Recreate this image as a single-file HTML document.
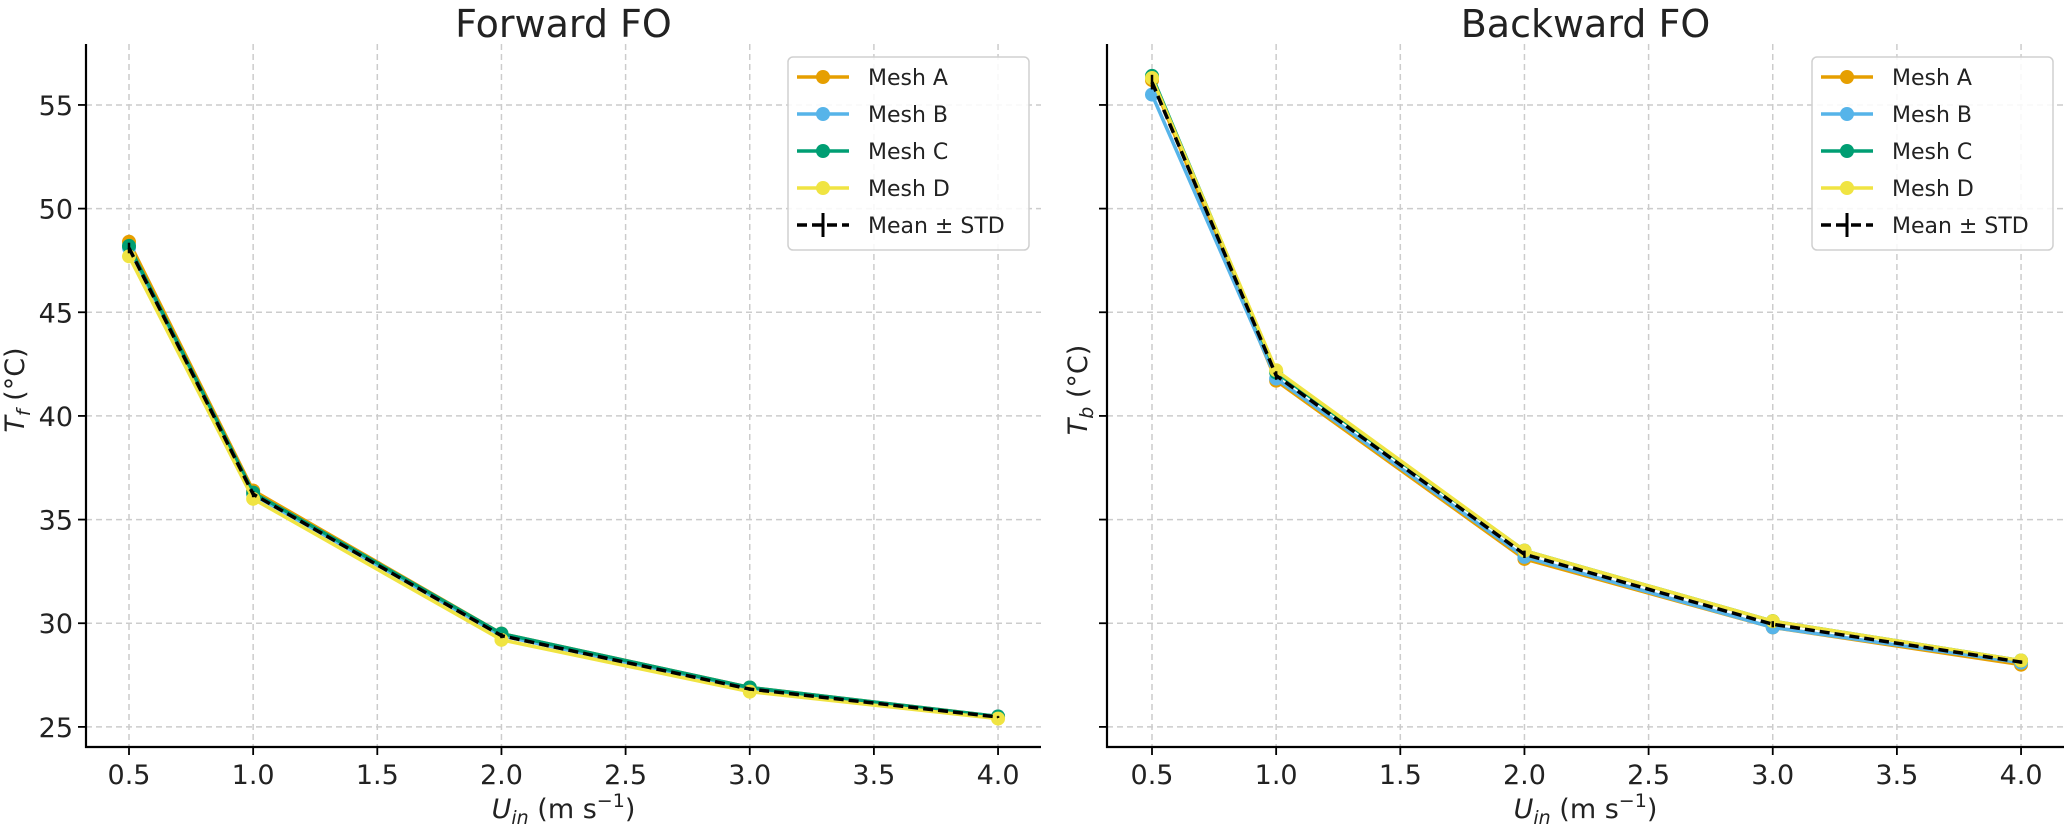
<!DOCTYPE html>
<html><head><meta charset="utf-8">
<style>
html,body{margin:0;padding:0;background:#fff;}
svg{display:block;font-family:"DejaVu Sans","Liberation Sans",sans-serif;}
</style></head>
<body>
<svg id="chart" width="2067" height="827" viewBox="0 0 2067 827" xmlns="http://www.w3.org/2000/svg"></svg>
<script>
const xCategories = [0.5, 1.0, 2.0, 3.0, 4.0];
const xTicks = [0.5, 1.0, 1.5, 2.0, 2.5, 3.0, 3.5, 4.0];
const xTickLabels = ["0.5","1.0","1.5","2.0","2.5","3.0","3.5","4.0"];
const yTicks = [25, 30, 35, 40, 45, 50, 55];
const yTickLabels = ["25","30","35","40","45","50","55"];
const seriesNames = ["Mesh A","Mesh B","Mesh C","Mesh D"];
const fwdA = [48.4, 36.4, 29.5, 26.9, 25.5];
const fwdB = [48.1, 36.2, 29.4, 26.8, 25.5];
const fwdC = [48.2, 36.3, 29.5, 26.9, 25.5];
const fwdD = [47.7, 36.0, 29.2, 26.7, 25.4];
const bwdA = [56.2, 41.7, 33.1, 29.8, 28.0];
const bwdB = [55.5, 41.8, 33.2, 29.8, 28.1];
const bwdC = [56.4, 42.1, 33.5, 30.1, 28.2];
const bwdD = [56.3, 42.2, 33.5, 30.1, 28.2];
const colors = ["#E69F00","#56B4E9","#009E73","#F0E442"];

const svgRoot = document.getElementById('chart');
const NS = "http://www.w3.org/2000/svg";
function mk(tag, attrs, parent, text){
  const el = document.createElementNS(NS, tag);
  for (const k in attrs) el.setAttribute(k, attrs[k]);
  if (text !== undefined) el.textContent = text;
  (parent || svgRoot).appendChild(el);
  return el;
}
const yMin = 24.03, yMax = 57.94, plotTop = 44, plotBottom = 747;
function yScale(v){ return plotBottom - (v - yMin) / (yMax - yMin) * (plotBottom - plotTop); }

function panel(left, right, x05, title, yLabelSub, series, yLabels, legendX, prefix){
  const g = mk('g', {});
  
  
  const pxPerUnit = 248.3;
  const xScale = v => x05 + (v - 0.5) * pxPerUnit;
  xTicks.forEach(t => {
    const l = mk('line', {x1:xScale(t), x2:xScale(t), y1:plotTop, y2:plotBottom, stroke:'#cccccc', 'stroke-width':1.5, 'stroke-dasharray':'6,4'}, g);
    
    
  });
  yTicks.forEach(t => {
    const l = mk('line', {x1:left, x2:right, y1:yScale(t), y2:yScale(t), stroke:'#cccccc', 'stroke-width':1.5, 'stroke-dasharray':'6,4'}, g);
    
    
  });
  const sp1 = mk('line', {x1:left, x2:left, y1:plotTop, y2:plotBottom+1, stroke:'#000', 'stroke-width':2.2}, g);
  
  
  const sp2 = mk('line', {x1:left-1, x2:right, y1:plotBottom, y2:plotBottom, stroke:'#000', 'stroke-width':2.2}, g);
  
  
  xTicks.forEach((t,i) => {
    mk('line', {x1:xScale(t), x2:xScale(t), y1:plotBottom, y2:plotBottom+8, stroke:'#000', 'stroke-width':1.8}, g);
    const tx = mk('text', {x:xScale(t), y:784, 'font-size':27, 'text-anchor':'middle', fill:'#222'}, g, xTickLabels[i]);
    
    
  });
  yTicks.forEach((t,i) => {
    mk('line', {x1:left-8, x2:left, y1:yScale(t), y2:yScale(t), stroke:'#000', 'stroke-width':1.8}, g);
    if (yLabels){
      const ty = mk('text', {x:left-13, y:yScale(t)+10, 'font-size':27, 'text-anchor':'end', fill:'#222'}, g, yTickLabels[i]);
      
      
    }
  });
  const tt = mk('text', {x:(left+right)/2, y:37, 'font-size':38, 'text-anchor':'middle', fill:'#222'}, g, title);
  
  
  const xl = mk('text', {x:(left+right)/2, y:818, 'font-size':27, 'text-anchor':'middle', fill:'#222'}, g);
  
  
  mk('tspan', {'font-style':'italic'}, xl, 'U');
  mk('tspan', {'font-style':'italic', 'font-size':19, dy:6}, xl, 'in');
  mk('tspan', {dy:-6}, xl, ' (m s');
  mk('tspan', {'font-size':19, dy:-11}, xl, '−1');
  mk('tspan', {dy:11}, xl, ')');
  const yx = left - (yLabels ? 62 : 20), yy = 390;
  const yl = mk('text', {x:yx, y:yy, 'font-size':27, 'text-anchor':'middle', fill:'#222', transform:`rotate(-90 ${yx} ${yy})`}, g);
  
  
  mk('tspan', {'font-style':'italic'}, yl, 'T');
  mk('tspan', {'font-style':'italic', 'font-size':19, dy:6}, yl, yLabelSub);
  mk('tspan', {dy:-6}, yl, ' (°C)');
  series.forEach((vals, si) => {
    const pts = vals.map((v,i) => xScale(xCategories[i]) + ',' + yScale(v)).join(' ');
    const pl = mk('polyline', {points:pts, fill:'none', stroke:colors[si], 'stroke-width':3.5, 'stroke-linejoin':'round'}, g);
    
    
    vals.forEach((v,i) => {
      const c = mk('circle', {cx:xScale(xCategories[i]), cy:yScale(v), r:7, fill:colors[si]}, g);
      
      
    });
  });
  const means = xCategories.map((_,i) => series.reduce((s,a)=>s+a[i],0)/series.length);
  const stds = xCategories.map((_,i) => Math.sqrt(series.reduce((s,a)=>s+(a[i]-means[i])**2,0)/series.length));
  const mp = means.map((m,i) => xScale(xCategories[i]) + ',' + yScale(m)).join(' ');
  const ml = mk('polyline', {points:mp, fill:'none', stroke:'#000', 'stroke-width':3.5, 'stroke-dasharray':'10,5'}, g);
  
  
  means.forEach((m,i) => {
    const x = xScale(xCategories[i]);
    const eb = mk('line', {x1:x, x2:x, y1:yScale(m-stds[i]), y2:yScale(m+stds[i]), stroke:'#000', 'stroke-width':2.5}, g);
    
    
  });
  const lg = mk('g', {}, g);
  
  
  mk('rect', {x:legendX, y:57, width:241, height:193, rx:5, fill:'#fff', 'fill-opacity':0.85, stroke:'#d0d0d0', 'stroke-width':1.5}, lg);
  seriesNames.forEach((n, si) => {
    const ry = 77 + si*37;
    const entry = mk('g', {}, lg);
    
    
    mk('line', {x1:legendX+9, x2:legendX+61, y1:ry, y2:ry, stroke:colors[si], 'stroke-width':3.5}, entry);
    mk('circle', {cx:legendX+35, cy:ry, r:7, fill:colors[si]}, entry);
    mk('text', {x:legendX+80, y:ry+8, 'font-size':22, fill:'#222'}, entry, n);
  });
  const mry = 77 + 4*37;
  const mEntry = mk('g', {}, lg);
  
  
  mk('line', {x1:legendX+9, x2:legendX+61, y1:mry, y2:mry, stroke:'#000', 'stroke-width':3.5, 'stroke-dasharray':'10,5'}, mEntry);
  mk('line', {x1:legendX+35, x2:legendX+35, y1:mry-12, y2:mry+12, stroke:'#000', 'stroke-width':3}, mEntry);
  mk('text', {x:legendX+80, y:mry+8, 'font-size':22, fill:'#222'}, mEntry, 'Mean ± STD');
}
panel(86, 1041, 129, 'Forward FO', 'f', [fwdA, fwdB, fwdC, fwdD], true, 788, 'forward');
panel(1107, 2064, 1152, 'Backward FO', 'b', [bwdA, bwdB, bwdC, bwdD], false, 1812, 'backward');
</script>
</body></html>
